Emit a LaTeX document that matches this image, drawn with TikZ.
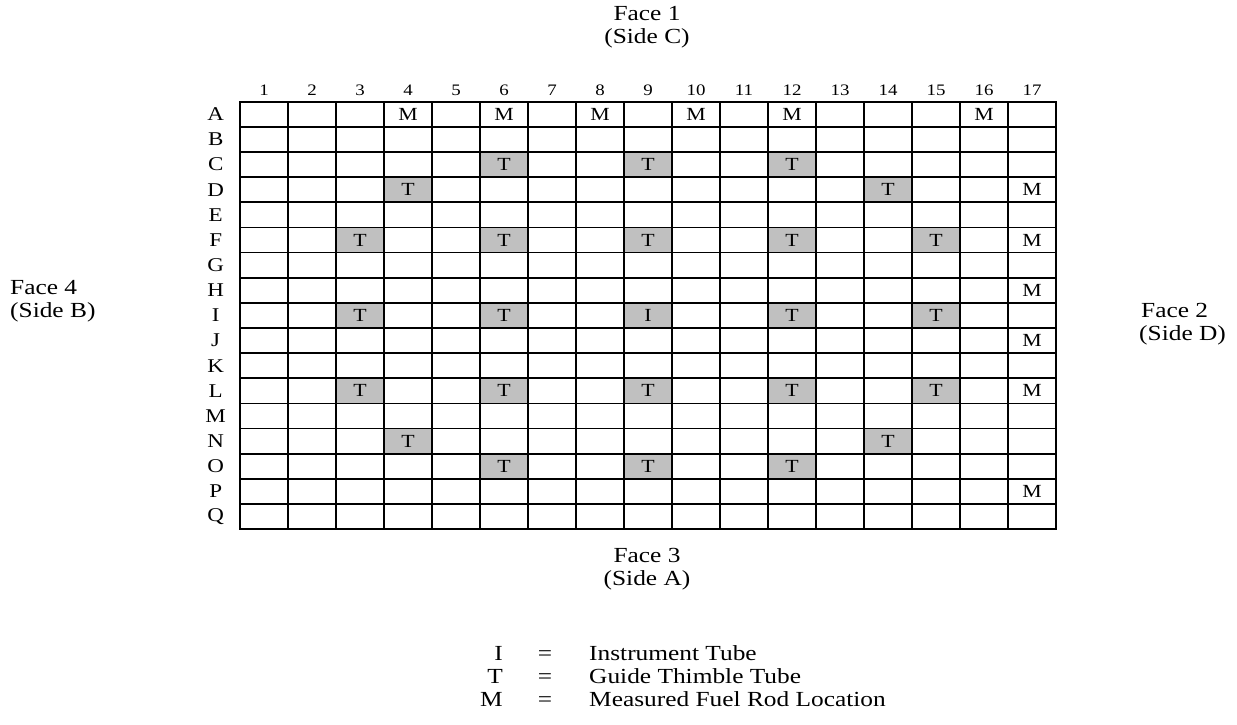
\documentclass[tikz,border=0pt]{standalone}
\usepackage{fontspec}
\setmainfont{Liberation Serif}[FakeStretch=1.18]
\usepackage{tikz}
\usetikzlibrary{positioning}
\definecolor{tubegray}{HTML}{C0C0C0}

\begin{document}
\begin{tikzpicture}[
  x=1pt, y=-1pt,
  cellbox/.style={draw, line width=1.7pt, rectangle, minimum width=48pt, minimum height=25.14pt, inner sep=0pt, outer sep=0pt},
  tube/.style={cellbox, fill=tubegray},
  cellmark/.style={font=\fontsize{18.5}{18.5}\selectfont, inner sep=0pt},
  rowlabel/.style={font=\fontsize{19.5}{19.5}\selectfont, inner sep=0pt},
  collabel/.style={font=\fontsize{16}{16}\selectfont, inner sep=0pt},
  facelabel/.style={font=\fontsize{21.5}{23}\selectfont, align=center, inner sep=0pt},
  legendtext/.style={font=\fontsize{21.5}{23}\selectfont, inner sep=0pt}
]
\useasboundingbox (0,0) rectangle (1237,725);

% Grid cells
\foreach \r [count=\i] in {A,...,Q} {
  \foreach \c in {1,...,17} {
    \node[cellbox] (\r\c) at ({240+48*(\c-0.5)},{101.7+25.14*(\i-0.5)}) {};
  }
}

% Guide thimble and instrument tubes
\foreach \cell in {C6,C9,C12,D4,D14,F3,F6,F9,F12,F15,I3,I6,I9,I12,I15,L3,L6,L9,L12,L15,N4,N14,O6,O9,O12}
  \node[tube] (t-\cell) at (\cell) {};

% Cell marks
\foreach \cell/\mark in {A4/M,A6/M,A8/M,A10/M,A12/M,A16/M,
    C6/T,C9/T,C12/T,D4/T,D14/T,D17/M,
    F3/T,F6/T,F9/T,F12/T,F15/T,F17/M,H17/M,
    I3/T,I6/T,I9/I,I12/T,I15/T,J17/M,
    L3/T,L6/T,L9/T,L12/T,L15/T,L17/M,
    N4/T,N14/T,O6/T,O9/T,O12/T,P17/M}
  \node[cellmark] (m-\cell) at (\cell) {\mark};

% Row and column labels
\foreach \r [count=\i] in {A,...,Q}
  \node[rowlabel] (row-\r) at ({215.7},{101.7+25.14*(\i-0.5)}) {\r};
\foreach \c in {1,...,17}
  \node[collabel] (col-\c) at ({240+48*(\c-0.5)},90) {\c};

% Faces
\node[facelabel] (face1) at (647,27) {Face 1\\(Side C)};
\node[facelabel, anchor=west, align=left] (face2) at (1139,324) {\hspace{2pt}Face 2\\(Side D)};
\node[facelabel] (face3) at (647,569) {Face 3\\(Side A)};
\node[facelabel, anchor=west, align=left] (face4) at (10,301) {Face 4\\(Side B)};

% Legend
\foreach \sym/\txt [count=\k] in {I/Instrument Tube, T/Guide Thimble Tube, M/Measured Fuel Rod Location} {
  \node[legendtext, anchor=base east] (key-\k) at (503,{637+23*\k}) {\sym};
  \node[legendtext, anchor=base] (eq-\k) at (545,{637+23*\k}) {=};
  \node[legendtext, anchor=base west] (txt-\k) at (589,{637+23*\k}) {\txt};
}

\end{tikzpicture}
\end{document}
